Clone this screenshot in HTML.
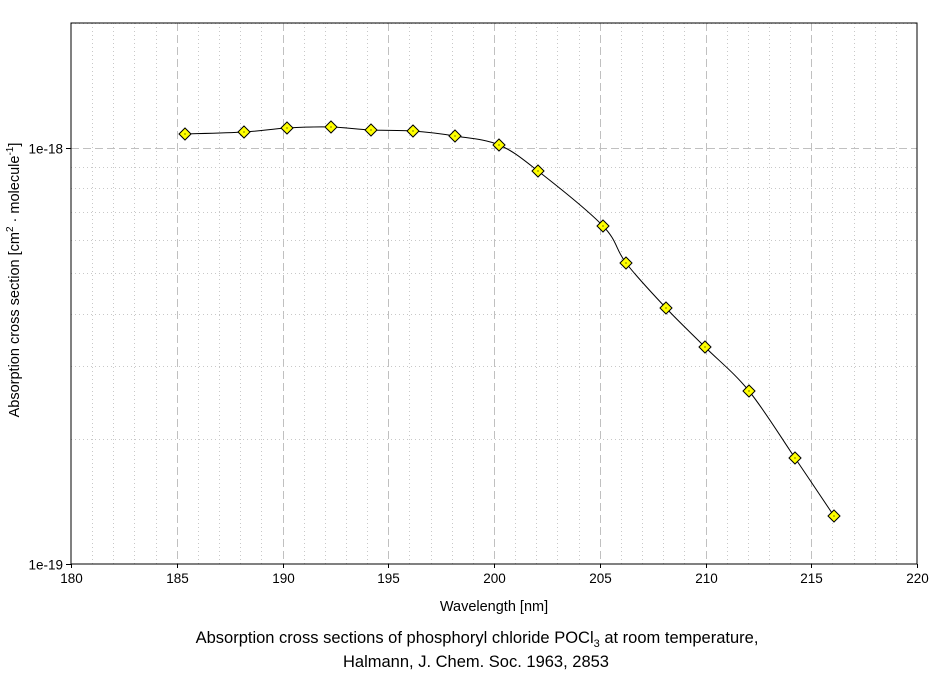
<!DOCTYPE html>
<html><head><meta charset="utf-8"><style>
body{margin:0;background:#fff;}
svg text{font-family:"Liberation Sans",Arial,sans-serif;fill:#000;}
</style></head><body>
<svg id="s" width="940" height="672" xmlns="http://www.w3.org/2000/svg">
<rect width="940" height="672" fill="#fff"/>
<g id="grid"></g>
<rect x="71" y="23" width="846" height="541" fill="none" stroke="#000" stroke-width="1"/>
<path id="curve" fill="none" stroke="#000" stroke-width="1"/>
<g id="pts"></g>
<g id="ticks" font-size="13.5"></g>
<text x="494" y="611" font-size="14.5" text-anchor="middle">Wavelength [nm]</text>
<text transform="translate(19,280) rotate(-90)" font-size="14.5" text-anchor="middle">Absorption cross section [cm<tspan font-size="10" dy="-6">2</tspan><tspan dy="6"> · molecule</tspan><tspan font-size="10" dy="-6">-1</tspan><tspan dy="6">]</tspan></text>
<text x="477" y="643" font-size="16.5" text-anchor="middle">Absorption cross sections of phosphoryl chloride POCl<tspan font-size="11" dy="4">3</tspan><tspan dy="-4"> at room temperature,</tspan></text>
<text x="476" y="667" font-size="16.5" text-anchor="middle">Halmann, J. Chem. Soc. 1963, 2853</text>
</svg>
<script>
var ns="http://www.w3.org/2000/svg";
function el(t,a,p){var e=document.createElementNS(ns,t);for(var k in a)e.setAttribute(k,a[k]);document.getElementById(p).appendChild(e);return e;}
var L=71,R=917,T=23,B=564;
function X(v){return L+(v-180)*(R-L)/40;}
function Y(v){return 564-416*Math.log10(v/1e-19);}
for(var v=181;v<220;v++){var x=Math.round(X(v))+0.5;var maj=v%5==0;
 el("line",{x1:x,x2:x,y1:T,y2:B,stroke:maj?"#c0c0c0":"#c8c8c8","stroke-dasharray":maj?"8,4":"1,3"},"grid");}
var ys=[];for(var k=2;k<=9;k++)ys.push([k*1e-19,false]);ys.push([1e-18,true]);ys.push([2e-18,false]);
ys.forEach(function(a){var y=Math.round(Y(a[0]))+0.5;if(y<T)return;
 el("line",{x1:L,x2:R,y1:y,y2:y,stroke:a[1]?"#c0c0c0":"#c8c8c8","stroke-dasharray":a[1]?"8,4":"1,3"},"grid");});
for(var v=180;v<=220;v+=5){var x=Math.round(X(v))+0.5;el("line",{x1:x,x2:x,y1:B,y2:B+4,stroke:"#000"},"ticks");
 var t=el("text",{x:x,y:583,"text-anchor":"middle"},"ticks");t.textContent=v;}
[[148.5,"1e-18"],[564.5,"1e-19"]].forEach(function(a){el("line",{x1:66,x2:L,y1:a[0],y2:a[0],stroke:"#000"},"ticks");
 var t=el("text",{x:63,y:a[0]+5,"text-anchor":"end"},"ticks");t.textContent=a[1];});
var P=[[185,134],[244,132],[287,128],[331,127],[371,130],[413,131],[455,136],[499,145],[538,171],[603,226],[626,263],[666,308],[705,347],[749,391],[795,458],[834,516]];
var d="M"+P[0][0]+","+P[0][1];
for(var i=0;i<P.length-1;i++){var p0=P[Math.max(0,i-1)],p1=P[i],p2=P[i+1],p3=P[Math.min(P.length-1,i+2)];
 d+=" C"+(p1[0]+(p2[0]-p0[0])/6)+","+(p1[1]+(p2[1]-p0[1])/6)+" "+(p2[0]-(p3[0]-p1[0])/6)+","+(p2[1]-(p3[1]-p1[1])/6)+" "+p2[0]+","+p2[1];}
document.getElementById("curve").setAttribute("d",d);
P.forEach(function(p){el("path",{d:"M"+p[0]+","+(p[1]-6)+" L"+(p[0]+6)+","+p[1]+" L"+p[0]+","+(p[1]+6)+" L"+(p[0]-6)+","+p[1]+"Z",fill:"#ffff00",stroke:"#000","stroke-width":1},"pts");
 el("rect",{x:p[0]-0.5,y:p[1]-0.5,width:1,height:1,fill:"#000"},"pts");});
</script>
</body></html>
